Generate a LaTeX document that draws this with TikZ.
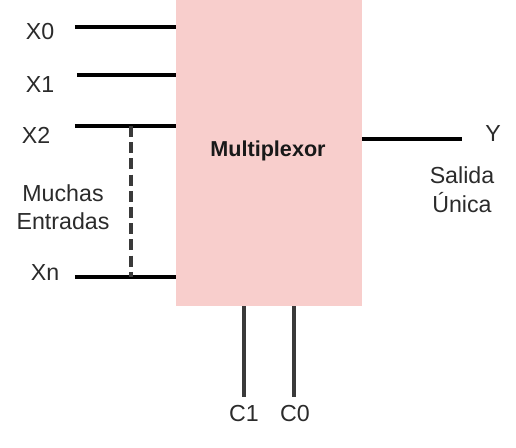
\documentclass[tikz,border=0pt]{standalone}
\usepackage{fontspec}
\setmainfont{Liberation Sans}
\usetikzlibrary{positioning}
\definecolor{muxpink}{HTML}{F8CECC}
\definecolor{inkgray}{HTML}{2B2B2B}
\definecolor{dashgray}{HTML}{3A3A3A}

\begin{document}
\begin{tikzpicture}[x=0.5pt,y=-0.5pt,line cap=butt,line join=miter,
    font=\fontsize{11.6}{14}\selectfont,
    wire/.style={line width=1.6pt,black},
    selwire/.style={line width=1.7pt,dashgray},
    lbl/.style={text=inkgray,inner sep=0pt,align=center}]
  \useasboundingbox (0,0) rectangle (516,448);
  % multiplexer block
  \node[fill=muxpink,inner sep=0pt,minimum width=93pt,minimum height=153pt] (mux) at (269,153) {};
  \node[inner sep=0pt,text=black!90,font=\fontsize{10.8}{13}\selectfont\bfseries] (muxname) at (268,151) {Multiplexor};
  % inputs
  \coordinate (x0) at (75,27);
  \coordinate (x1) at (77,75);
  \coordinate (x2) at (75,126);
  \coordinate (xn) at (75,277);
  \foreach \c in {x0,x1,x2,xn} {\draw[wire] (\c) -- (\c -| mux.west);}
  \node[lbl] (lx0) at (40,32) {X0};
  \node[lbl] (lx1) at (40,85) {X1};
  \node[lbl] (lx2) at (36,135) {X2};
  \node[lbl] (lxn) at (45,273) {Xn};
  \coordinate (d2) at (131,126);
  \coordinate (dn) at (131,277);
  \draw[line width=2.1pt,dashgray,dash pattern=on 5.5pt off 2.6pt] (d2) -- (dn);
  \node[lbl,font=\fontsize{11.6}{14}\selectfont] (many) at (63,207) {Muchas\\Entradas};
  % output
  \coordinate (yout) at (462,139);
  \draw[wire] (yout -| mux.east) -- (yout);
  \node[lbl] (ly) at (493,134) {Y};
  \node[lbl,font=\fontsize{11.6}{14.5}\selectfont] (single) at (462,190) {Salida\\Única};
  % select lines
  \coordinate (c1) at (244,397);
  \coordinate (c0) at (294,397);
  \draw[selwire] (c1 |- mux.south) -- (c1);
  \draw[selwire] (c0 |- mux.south) -- (c0);
  \node[lbl] (lc1) at (244,414) {C1};
  \node[lbl] (lc0) at (295,414) {C0};
\end{tikzpicture}
\end{document}
